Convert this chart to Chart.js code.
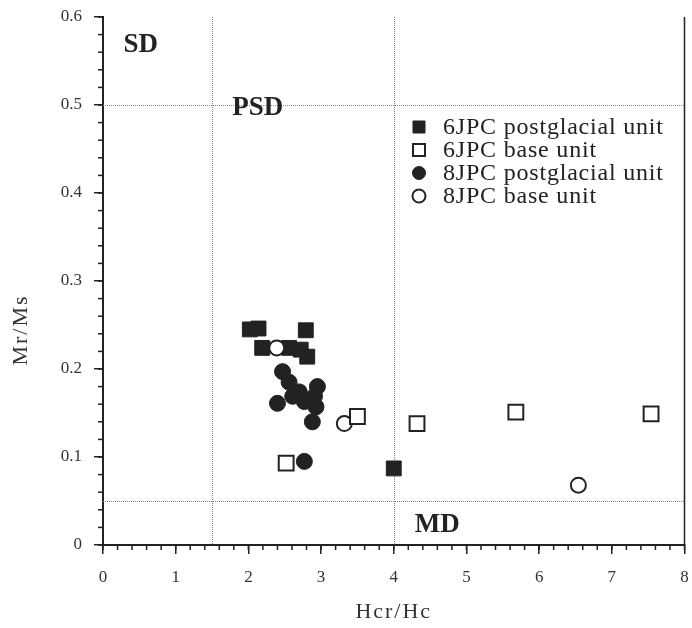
<!DOCTYPE html>
<html><head><meta charset="utf-8">
<script src="https://cdn.jsdelivr.net/npm/chart.js@4/dist/chart.umd.min.js"></script>
<style>html,body{margin:0;padding:0;background:#fff;overflow:hidden}#wrap{width:692px;height:628px;overflow:hidden}</style>
</head><body><div id="wrap"><canvas id="c" width="697" height="628"></canvas></div>
<script>
const seriesNames = ["6JPC postglacial unit", "6JPC base unit", "8JPC postglacial unit", "8JPC base unit"];
const post6X = [2.02, 2.14, 2.79, 2.19, 2.56, 2.72, 2.81, 4.00];
const post6Y = [0.245, 0.246, 0.244, 0.224, 0.224, 0.222, 0.214, 0.087];
const base6X = [2.52, 3.50, 4.32, 5.68, 7.54];
const base6Y = [0.093, 0.146, 0.138, 0.151, 0.149];
const post8X = [2.47, 2.56, 2.70, 2.95, 2.61, 2.91, 2.77, 2.40, 2.93, 2.88, 2.77];
const post8Y = [0.197, 0.185, 0.174, 0.180, 0.169, 0.169, 0.163, 0.161, 0.157, 0.140, 0.095];
const base8X = [2.39, 3.32, 6.54];
const base8Y = [0.224, 0.138, 0.068];
const xTicks = [0, 1, 2, 3, 4, 5, 6, 7, 8];
const yTicks = [0, 0.1, 0.2, 0.3, 0.4, 0.5, 0.6];
const vLines = [1.5, 4];
const hLines = [0.05, 0.5];
const regionLabels = ["SD", "PSD", "MD"];
const regionX = [0.52, 2.13, 4.6];
const regionY = [0.568, 0.497, 0.023];
const xTitle = "Hcr/Hc";
const yTitle = "Mr/Ms";

const ink = '#222';
const serif = '"Liberation Serif", "DejaVu Serif", serif';
const pts = (xs, ys) => xs.map((x, i) => ({x, y: ys[i]}));

const datasets = [
  {label: seriesNames[0], data: pts(post6X, post6Y), pointStyle: 'rect', pointRadius: 10.5, backgroundColor: ink, borderColor: ink, borderWidth: 1, order: 3},
  {label: seriesNames[1], data: pts(base6X, base6Y), pointStyle: 'rect', pointRadius: 10.5, backgroundColor: '#fff', borderColor: ink, borderWidth: 2, order: 1},
  {label: seriesNames[2], data: pts(post8X, post8Y), pointStyle: 'circle', pointRadius: 8, backgroundColor: ink, borderColor: ink, borderWidth: 1, order: 4},
  {label: seriesNames[3], data: pts(base8X, base8Y), pointStyle: 'circle', pointRadius: 7.5, backgroundColor: '#fff', borderColor: ink, borderWidth: 2, order: 2}
];
datasets.forEach(d => { d.pointHoverRadius = d.pointRadius; d.showLine = false; });

const decor = {
  id: 'decor',
  beforeDatasetsDraw(chart) {
    const {ctx, chartArea: a, scales: {x, y}} = chart;
    ctx.save();
    ctx.strokeStyle = '#888';
    ctx.lineWidth = 1;
    ctx.setLineDash([1, 1]);
    vLines.forEach(v => { const px = Math.round(x.getPixelForValue(v)) + 0.5; ctx.beginPath(); ctx.moveTo(px, a.top); ctx.lineTo(px, a.bottom); ctx.stroke(); });
    hLines.forEach(v => { const py = Math.round(y.getPixelForValue(v)) + 0.5; ctx.beginPath(); ctx.moveTo(a.left, py); ctx.lineTo(a.right, py); ctx.stroke(); });
    ctx.setLineDash([]);
    ctx.strokeStyle = ink; ctx.lineWidth = 1.5;
    ctx.beginPath(); ctx.moveTo(a.right, a.top); ctx.lineTo(a.right, a.bottom); ctx.stroke();
    for (let i = 0; i <= 40; i++) {
      const px = x.getPixelForValue(i * 0.2);
      ctx.beginPath(); ctx.moveTo(px, a.bottom); ctx.lineTo(px, a.bottom + 5); ctx.stroke();
    }
    for (let i = 0; i <= 30; i++) {
      const py = y.getPixelForValue(i * 0.02);
      ctx.beginPath(); ctx.moveTo(a.left, py); ctx.lineTo(a.left - 5, py); ctx.stroke();
    }
    ctx.fillStyle = ink;
    ctx.font = 'bold 27px ' + serif;
    ctx.textAlign = 'center'; ctx.textBaseline = 'middle';
    regionLabels.forEach((t, i) => ctx.fillText(t, x.getPixelForValue(regionX[i]), y.getPixelForValue(regionY[i])));
    ctx.fillStyle = '#333';
    ctx.font = '22px ' + serif;
    ctx.letterSpacing = '2px';
    ctx.fillText(xTitle, (a.left + a.right) / 2, 612);
    ctx.save();
    ctx.translate(21, 330);
    ctx.rotate(-Math.PI / 2);
    ctx.fillText(yTitle, 0, 0);
    ctx.restore();
    ctx.letterSpacing = '0px';
    ctx.restore();
  },
  afterDatasetsDraw(chart) {
    const {ctx} = chart;
    ctx.save();
    const rows = [127, 150, 173, 196];
    chart.data.datasets.forEach((d, i) => {
      const cx = 419, cy = rows[i];
      ctx.fillStyle = d.backgroundColor; ctx.strokeStyle = d.borderColor; ctx.lineWidth = d.borderWidth;
      ctx.beginPath();
      if (d.pointStyle === 'rect') { ctx.rect(cx - 6, cy - 6, 12, 12); }
      else { ctx.arc(cx, cy, 6.5, 0, Math.PI * 2); }
      ctx.fill(); ctx.stroke();
      ctx.fillStyle = '#222';
      ctx.font = '24px ' + serif;
      ctx.letterSpacing = '0.8px';
      ctx.textAlign = 'left'; ctx.textBaseline = 'middle';
      ctx.fillText(d.label, 443, cy + 1);
    });
    ctx.letterSpacing = '0px';
    ctx.restore();
  }
};

function zeroPad(s) {
  s.paddingLeft = 0; s.paddingRight = 0; s.paddingTop = 0; s.paddingBottom = 0;
}

new Chart(document.getElementById('c'), {
  type: 'scatter',
  data: {datasets},
  options: {
    responsive: false,
    animation: false,
    layout: {padding: {left: 0, right: 8, top: 17, bottom: 0}},
    plugins: {legend: {display: false}, tooltip: {enabled: false}},
    scales: {
      x: {
        type: 'linear', min: 0, max: 8,
        afterBuildTicks: s => { s.ticks = xTicks.map(v => ({value: v})); },
        afterFit: s => { s.height = 83; zeroPad(s); },
        ticks: {color: '#333', font: {family: serif, size: 17}, padding: 13, callback: v => String(v)},
        grid: {drawOnChartArea: false, tickLength: 9, color: ink, lineWidth: 1.5},
        border: {color: ink, width: 2}
      },
      y: {
        type: 'linear', min: 0, max: 0.6,
        afterBuildTicks: s => { s.ticks = yTicks.map(v => ({value: v})); },
        afterFit: s => { s.width = 103; zeroPad(s); },
        ticks: {color: '#333', font: {family: serif, size: 17}, padding: 12, callback: v => v === 0 ? '0' : v.toFixed(1)},
        grid: {drawOnChartArea: false, tickLength: 9, color: ink, lineWidth: 1.5},
        border: {color: ink, width: 2}
      }
    }
  },
  plugins: [decor]
});
</script></body></html>
